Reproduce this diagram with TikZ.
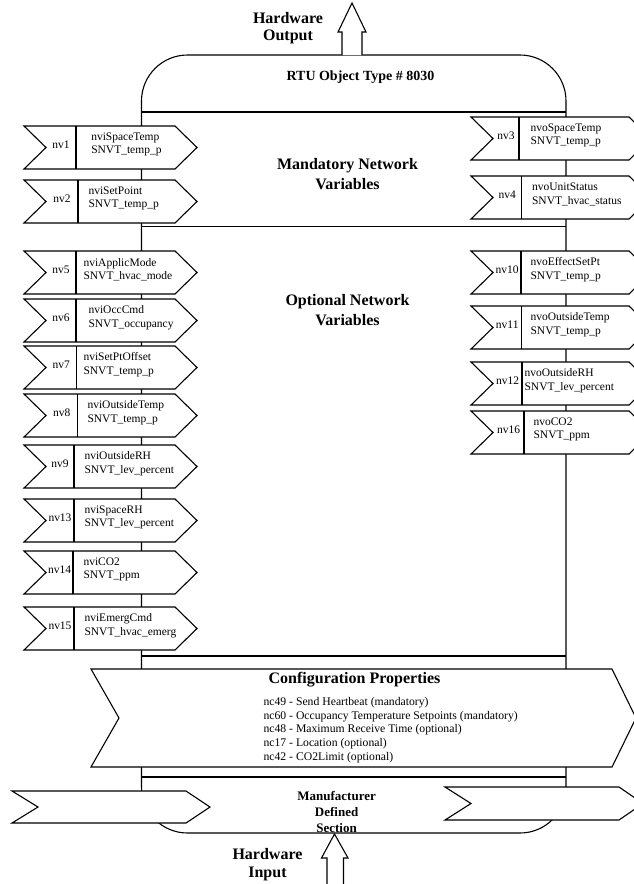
\documentclass[tikz,border=0pt]{standalone}
\usepackage{fontspec}
\setmainfont{Liberation Serif}
\usetikzlibrary{calc}

% input variable: name, top y, divider x, text x, text
\newcommand{\netin}[5]{%
  \draw[varshape] (24,#2) -- (175,#2) -- (197,#2+21.5) -- (175,#2+43) -- (24,#2+43) -- (46,#2+21.5) -- cycle;
  \draw (#3,#2) -- (#3,#2+43);
  \node[nvlabel] (#1) at ({(46+#3)/2},#2+19) {#1};
  \node[nvtext] (#1txt) at (#4,#2+18.5) {#5};
}
% output variable: name, top y, divider x, text x, text
\newcommand{\netout}[5]{%
  \draw[varshape] (471,#2) -- (629,#2) -- (651,#2+21.5) -- (629,#2+43) -- (471,#2+43) -- (493,#2+21.5) -- cycle;
  \draw (#3,#2) -- (#3,#2+43);
  \node[nvlabel] (#1) at ({(493+#3)/2},#2+19) {#1};
  \node[nvtext] (#1txt) at (#4,#2+18.5) {#5};
}

\begin{document}
\begin{tikzpicture}[
    x=1pt, y=-1pt, line width=1.1pt,
    varshape/.style={draw, fill=white},
    nvlabel/.style={inner sep=0pt, font=\fontsize{11.5}{13.5}\selectfont},
    nvtext/.style={anchor=west, align=left, inner sep=0pt, font=\fontsize{11.5}{13.5}\selectfont},
    heading/.style={align=center, inner sep=0pt, font=\bfseries\fontsize{16}{20}\selectfont},
    cfgitem/.style={anchor=west, align=left, inner sep=0pt, font=\fontsize{11.7}{13.75}\selectfont}
]
    \useasboundingbox (0,0) rectangle (634,884);
    \clip (0,0) rectangle (634,884);

    % Object body
    \draw[rounded corners=46] (141.5,55) rectangle (566,833);
    \draw (141.5,112) -- (566,112);
    \draw (141.5,226.5) -- (566,226.5);
    \draw (141.5,656) -- (566,656);
    \draw (141.5,777) -- (566,777);

    % Hardware arrows
    \draw[varshape] (342,55) -- (342,32) -- (338,32) -- (352,3) -- (366,32) -- (362,32) -- (362,55);
    \draw[varshape] (327,888) -- (327,858) -- (321.5,858) -- (334.5,834) -- (348,858) -- (343.5,858) -- (343.5,888);
    \node[heading, font=\bfseries\fontsize{16}{17.5}\selectfont] (hwout) at (288,28) {Hardware\\Output};
    \node[heading, font=\bfseries\fontsize{16}{18}\selectfont] (hwin) at (267.5,865) {Hardware\\Input};

    % Titles
    \node[heading, anchor=base west, font=\bfseries\fontsize{14}{16}\selectfont] (title) at (286,80.5) {RTU Object Type \# 8030};
    \node[heading] (mandatory) at (347.5,174) {Mandatory Network\\Variables};
    \node[heading] (optional) at (347.5,310) {Optional Network\\Variables};

    % Network variables
    \netin{nv1}{126}{76}{90.7}{nviSpaceTemp\\SNVT\_temp\_p}
    \netin{nv2}{180}{78}{88}{nviSetPoint\\SNVT\_temp\_p}
    \netin{nv5}{251}{76}{83}{nviApplicMode\\SNVT\_hvac\_mode}
    \netin{nv6}{299}{76}{88}{nviOccCmd\\SNVT\_occupancy}
    \netin{nv7}{346}{76.5}{83}{nviSetPtOffset\\SNVT\_temp\_p}
    \netin{nv8}{394}{77.5}{87}{nviOutsideTemp\\SNVT\_temp\_p}
    \netin{nv9}{445}{74}{84}{nviOutsideRH\\SNVT\_lev\_percent}
    \netin{nv13}{499}{74}{84}{nviSpaceRH\\SNVT\_lev\_percent}
    \netin{nv14}{551}{73}{83}{nviCO2\\SNVT\_ppm}
    \netin{nv15}{607}{74}{84}{nviEmergCmd\\SNVT\_hvac\_emerg}
    \netout{nv3}{117}{519}{530}{nvoSpaceTemp\\SNVT\_temp\_p}
    \netout{nv4}{176}{521.5}{531.5}{nvoUnitStatus\\SNVT\_hvac\_status}
    \netout{nv10}{251}{521}{530}{nvoEffectSetPt\\SNVT\_temp\_p}
    \netout{nv11}{306}{521.5}{530}{nvoOutsideTemp\\SNVT\_temp\_p}
    \netout{nv12}{362}{522}{524}{nvoOutsideRH\\SNVT\_lev\_percent}
    \netout{nv16}{411}{524}{533}{nvoCO2\\SNVT\_ppm}

    % Configuration properties
    \draw[varshape] (91,669) -- (612,669) -- (636,718) -- (612,767) -- (91,767) -- (119,718) -- cycle;
    \node[heading] (config) at (354.5,680) {Configuration Properties};
    \node[cfgitem] (cfglist) at (263,730) {nc49 - Send Heartbeat (mandatory)\\
        nc60 - Occupancy Temperature Setpoints (mandatory)\\
        nc48 - Maximum Receive Time (optional)\\
        nc17 - Location (optional)\\
        nc42 - CO2Limit (optional)};

    % Manufacturer section
    \draw[varshape] (12,791) -- (186,791) -- (210,807) -- (186,823) -- (12,823) -- (38,807) -- cycle;
    \draw[varshape] (445,787) -- (619,787) -- (643,803.5) -- (619,820) -- (445,820) -- (471,803.5) -- cycle;
    \node[heading, font=\bfseries\fontsize{13}{16}\selectfont] (mfr) at (336.6,812) {Manufacturer\\Defined\\Section};
\end{tikzpicture}
\end{document}
